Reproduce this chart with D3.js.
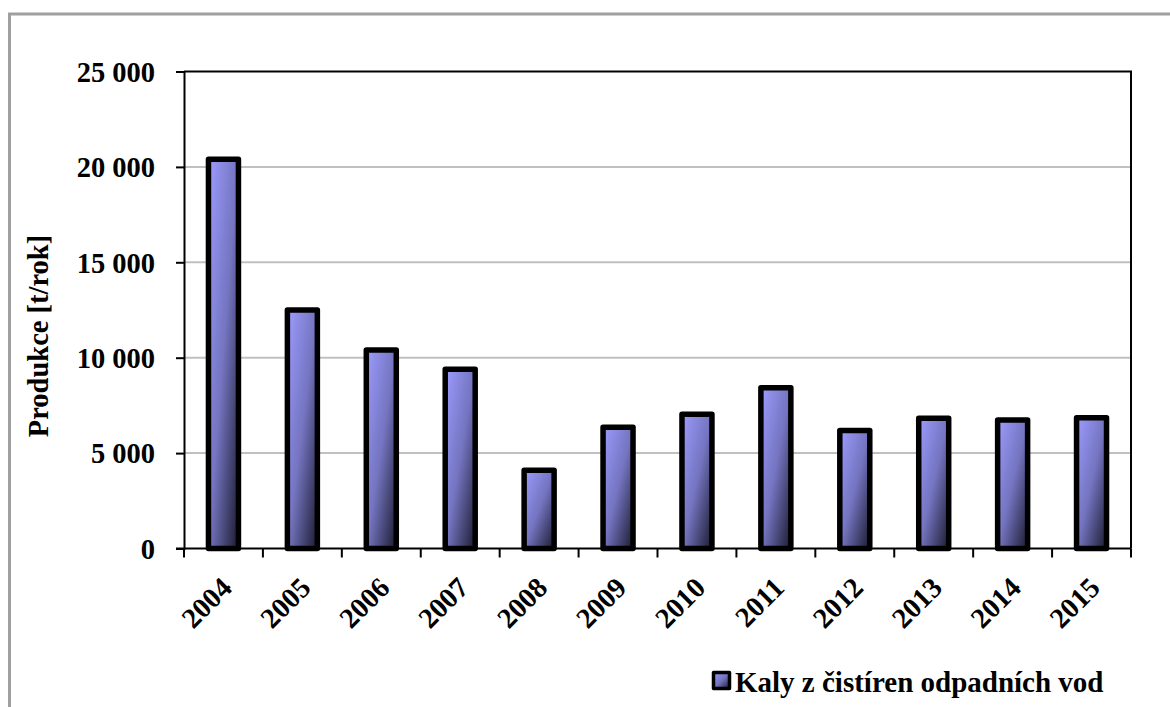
<!DOCTYPE html>
<html><head><meta charset="utf-8">
<script src="https://cdn.jsdelivr.net/npm/d3@7"></script>
<style>body{margin:0;background:#fff}svg{display:block}text{font-family:"Liberation Serif","Times New Roman",serif;font-weight:bold;fill:#000}</style>
</head><body>
<svg id="c" width="1170" height="707"></svg>
<script>
const years = ["2004","2005","2006","2007","2008","2009","2010","2011","2012","2013","2014","2015"];
const values = [20400,12500,10400,9400,4100,6350,7030,8420,6190,6820,6730,6850];
const yTicks = [0,5000,10000,15000,20000,25000];
const yTitle = "Produkce [t/rok]";
const seriesName = "Kaly z čistíren odpadních vod";

const svg = d3.select("#c");
const defs = svg.append("defs");
const g = defs.append("linearGradient").attr("id","grad").attr("x1",0).attr("y1",0).attr("x2",1).attr("y2",1);
g.append("stop").attr("offset",0).attr("stop-color","#9c9cff");
g.append("stop").attr("offset",0.5).attr("stop-color","#7474c0");
g.append("stop").attr("offset",1).attr("stop-color","#1a1a2e");

// outer frame
svg.append("rect").attr("x",9.5).attr("y",14).attr("width",1200).attr("height",800)
  .attr("fill","none").attr("stroke","#a0a0a0").attr("stroke-width",3);

const L=184, R=1131, T=71.5, B=548.5;
const x = d3.scaleBand().domain(years).range([L,R]).paddingInner(0.62).paddingOuter(0.31);
const y = d3.scaleLinear().domain([0,25000]).range([B,T]);

// gridlines
svg.append("g").selectAll("line").data(yTicks.filter(d=>d>0&&d<25000)).join("line")
  .attr("x1",L).attr("x2",R).attr("y1",d=>y(d)).attr("y2",d=>y(d))
  .attr("stroke","#c0c0c0").attr("stroke-width",2);

// plot border top/right
svg.append("path").attr("d",`M${L},${T}H${R}V${B}`).attr("fill","none").attr("stroke","#000").attr("stroke-width",2);

// bars
svg.append("g").selectAll("rect").data(values).join("rect")
  .attr("x",(d,i)=>x(years[i])).attr("width",x.bandwidth())
  .attr("y",d=>y(d)).attr("height",d=>B-y(d))
  .attr("fill","url(#grad)").attr("stroke","#000").attr("stroke-width",5.5).attr("stroke-linejoin","round");

// y axis
const ya = svg.append("g").attr("transform",`translate(${L},0)`)
  .call(d3.axisLeft(y).tickValues(yTicks).tickSize(8).tickPadding(21)
    .tickFormat(d=>d3.format(",")(d).replace(/,/g," ")));
ya.attr("font-family",null);
ya.select(".domain").attr("stroke","#000").attr("stroke-width",2);
ya.selectAll(".tick line").attr("stroke","#000").attr("stroke-width",2);
ya.selectAll(".tick text").attr("font-size",28.5).attr("dy","0.34em");

// x axis
const step = x.step();
const xa = svg.append("g").attr("transform",`translate(0,${B})`);
xa.append("line").attr("x1",L-8).attr("x2",R).attr("stroke","#000").attr("stroke-width",2);
xa.selectAll(".xt").data(d3.range(years.length+1)).join("line").attr("class","xt")
  .attr("x1",i=>L+i*step).attr("x2",i=>L+i*step).attr("y1",0).attr("y2",9)
  .attr("stroke","#000").attr("stroke-width",2);
xa.selectAll(".xl").data(years).join("text").attr("class","xl")
  .attr("font-size",28.5).attr("text-anchor","end")
  .attr("transform",d=>`translate(${x(d)+x.bandwidth()/2+10},${41}) rotate(-45)`)
  .text(d=>d);

// y title
svg.append("text").attr("font-size",28.5).attr("text-anchor","middle")
  .attr("transform",`translate(48,336) rotate(-90)`).text(yTitle);

// legend
svg.append("rect").attr("x",713.5).attr("y",672.5).attr("width",16).attr("height",16)
  .attr("fill","url(#grad)").attr("stroke","#000").attr("stroke-width",3.5).attr("stroke-linejoin","round");
svg.append("text").attr("x",735).attr("y",692).attr("font-size",29).text(seriesName);
</script>
</body></html>
